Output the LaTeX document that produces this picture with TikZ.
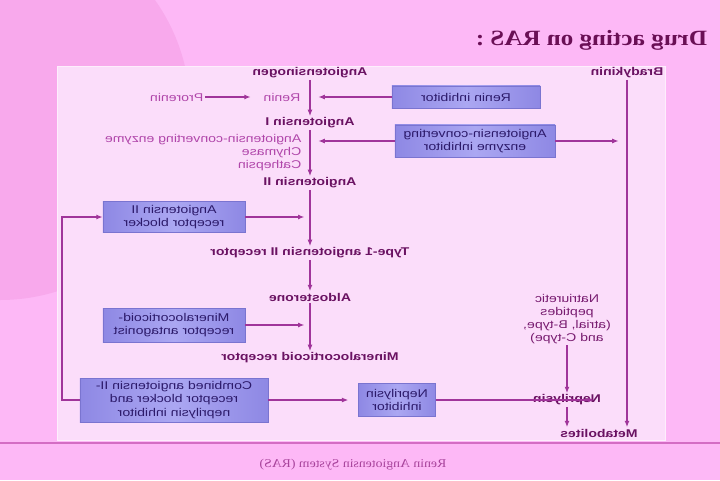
\documentclass[tikz,border=0pt]{standalone}
\usepackage{fontspec}
\usepackage{xcolor}
\usepackage{tikz}
\newfontfamily\lblfont[FakeStretch=1.25]{Liberation Sans}
\newfontfamily\ttlfont[FakeStretch=1.15]{Liberation Serif}
\usetikzlibrary{arrows.meta,positioning,calc}
\definecolor{bgpink}{HTML}{FDB8F6}
\definecolor{blobpink}{HTML}{F8A9EC}
\definecolor{panelpink}{HTML}{FBDDFA}
\definecolor{linec}{HTML}{A0349A}
\definecolor{boxedge}{HTML}{8E88E4}
\definecolor{boxmid}{HTML}{ABA7F2}
\definecolor{boxdraw}{HTML}{7A74D0}
\definecolor{boxtext}{HTML}{2C1A6A}
\definecolor{darklbl}{HTML}{6A1262}
\definecolor{lightlbl}{HTML}{B046AA}
\definecolor{titlec}{HTML}{6A0F55}
\definecolor{footc}{HTML}{A8449C}
\definecolor{footline}{HTML}{D46CC4}

\begin{document}
\begin{tikzpicture}[
  x=0.025cm,y=-0.025cm,xscale=-1,transform shape,
  stage/.style={font=\lblfont\bfseries\fontsize{8}{9.5}\selectfont,text=darklbl,inner sep=1pt},
  agent/.style={font=\lblfont\fontsize{8}{9.2}\selectfont,text=lightlbl,inner sep=1pt,align=left},
  drug/.style={rectangle,draw=boxdraw,left color=boxedge,right color=boxedge,middle color=boxmid,
               font=\lblfont\fontsize{8}{9.5}\selectfont,text=boxtext,align=center,inner sep=1pt},
  flow/.style={draw=linec,line width=0.8pt,-{Latex[length=4.5pt,width=3.5pt]}}
]
  \useasboundingbox (0,0) rectangle (720,480);
  \begin{scope}
    \clip (0,0) rectangle (720,480);
    \fill[bgpink] (0,0) rectangle (720,480);
    \fill[blobpink] (720,110) circle (190);
  \end{scope}
  \fill[panelpink,draw=white!50!panelpink] (55,66) rectangle (663,440);
  \draw[footline,line width=0.8pt] (0,443) -- (720,443);

  \node[anchor=west,font=\ttlfont\bfseries\fontsize{15.5}{18}\selectfont,text=titlec] (title) at (8,40) {Drug acting on RAS :};
  \node[font=\ttlfont\fontsize{8.5}{10}\selectfont,text=footc] (foot) at (367,465) {Renin Angiotensin System (RAS)};

  \node[stage] (ang0) at (410,73) {Angiotensinogen};
  \node[stage] (ang1) at (410,123) {Angiotensin I};
  \node[stage] (ang2) at (410,183) {Angiotensin II};
  \node[stage] (at1r) at (410,253) {Type-1 angiotensin II receptor};
  \node[stage] (aldo) at (410,297) {Aldosterone};
  \node[stage] (mr) at (410,358) {Mineralocorticoid receptor};

  \node[agent,anchor=west] (renin) at (418,97) {Renin};
  \node[agent,anchor=west] (prorenin) at (515,97) {Prorenin};
  \node[agent,anchor=north west] (enz) at (417,133) {Angiotensin-converting enzyme\\Chymase\\Cathepsin};

  \node[stage] (brady) at (93,73) {Bradykinin};
  \node[agent,align=center,text=darklbl!80!lightlbl] (natri) at (153,319) {Natriuretic\\peptides\\(atrial, B-type,\\and C-type)};
  \node[stage] (nep) at (153,400) {Neprilysin};
  \node[stage] (metab) at (121,433) {Metabolites};

  \node[drug,minimum width=3.7cm,minimum height=0.55cm] (rinh) at (254,97) {Renin inhibitor};
  \node[drug,minimum width=4cm,minimum height=0.8cm] (acei) at (245,141) {Angiotensin-converting\\enzyme inhibitor};
  \node[drug,minimum width=3.55cm,minimum height=0.78cm] (arb) at (546,217) {Angiotensin II\\receptor blocker};
  \node[drug,minimum width=3.55cm,minimum height=0.85cm] (mra) at (546,325) {Mineralocorticoid-\\receptor antagonist};
  \node[drug,minimum width=4.7cm,minimum height=1.1cm] (combo) at (546,400) {Combined angiotensin II-\\receptor blocker and\\neprilysin inhibitor};
  \node[drug,minimum width=1.93cm,minimum height=0.83cm] (nepinh) at (323,400) {Neprilysin\\inhibitor};
  \coordinate (loop) at (658,400);

  \draw[flow] (ang0) -- (ang1);
  \draw[flow] (ang1) -- (ang2);
  \draw[flow] (ang2) -- (at1r);
  \draw[flow] (at1r) -- (aldo);
  \draw[flow] (aldo) -- (mr);
  \draw[flow,shorten >=8pt] (prorenin) -- (renin);
  \draw[flow,shorten >=6pt] (rinh.east) -- (rinh.east -| ang0);
  \draw[flow,shorten >=6pt] (acei.east) -- (acei.east -| ang1);
  \draw[flow,shorten >=6pt] (acei.west) -- (acei.west -| brady);
  \draw[flow,shorten >=4pt] (arb.west) -- (arb.west -| ang2);
  \draw[flow,shorten >=4pt] (mra.west) -- (mra.west -| aldo);
  \draw[flow,shorten >=7pt] (combo.west) -- (nepinh.east);
  \draw[flow,shorten >=6pt] (nepinh.west) -- (nep.west);
  \draw[flow] (natri) -- (nep);
  \draw[flow] (nep) -- (nep |- metab.north);
  \draw[flow] (brady) -- (brady |- metab.north);
  \draw[flow] (combo.east) -- (loop) |- (arb.east);
\end{tikzpicture}
\end{document}
